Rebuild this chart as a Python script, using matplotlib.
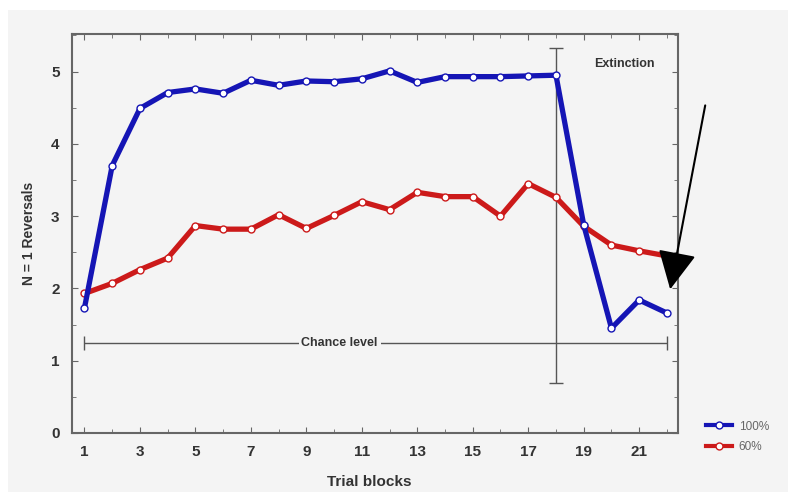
import numpy as np
import matplotlib.pyplot as plt
from matplotlib.lines import Line2D
from matplotlib.patches import Rectangle

plt.rcParams['font.family'] = ['Liberation Sans', 'DejaVu Sans']

# -----------------------------
# Дані
# -----------------------------
blocks = np.arange(1, 23)
rev_100 = [1.73, 3.70, 4.49, 4.71, 4.76, 4.70, 4.88, 4.81, 4.87, 4.86, 4.90,
           5.01, 4.85, 4.93, 4.93, 4.93, 4.94, 4.95, 2.88, 1.45, 1.84, 1.66]
rev_60 = [1.93, 2.07, 2.26, 2.42, 2.87, 2.82, 2.82, 3.02, 2.83, 3.01, 3.20,
          3.09, 3.33, 3.27, 3.27, 3.00, 3.45, 3.26, 2.86, 2.60, 2.52, 2.45]
series_names = ["100%", "60%"]

chance_level = 1.25
extinction_block = 18
ext_bar = (0.69, 5.33)

bg = '#f4f4f4'
blue = '#1515b5'
red = '#cc1a1a'

fig = plt.figure(figsize=(7.88, 4.92), dpi=100, facecolor='white')
fig.patches.append(Rectangle((8 / 788, 0), 1 - 8 / 788, 1 - 10 / 492,
                             transform=fig.transFigure, facecolor=bg,
                             edgecolor='none', zorder=-10))
ax = fig.add_axes([72 / 788, 1 - 433 / 492, 606 / 788, 399 / 492])
ax.set_facecolor(bg)

# лінії
mk = dict(marker='o', markersize=5, markerfacecolor='white', markeredgewidth=1)
ax.plot(blocks, rev_100, color=blue, lw=3.8, markeredgecolor=blue, zorder=4, **mk)
ax.plot(blocks, rev_60, color=red, lw=3.8, markeredgecolor=red, zorder=3, **mk)

# chance level
ax.errorbar([(blocks[0] + blocks[-1]) / 2], [chance_level],
            xerr=[[(blocks[-1] - blocks[0]) / 2]], color='#555555',
            lw=1, capsize=5, capthick=1, zorder=2)
ax.text(10.2, chance_level, "Chance level", ha='center', va='center',
        fontsize=9, fontweight='bold', color='#333333',
        bbox=dict(facecolor=bg, edgecolor='none', pad=2), zorder=2.5)

# extinction
ax.errorbar([extinction_block], [(ext_bar[0] + ext_bar[1]) / 2],
            yerr=[[(ext_bar[1] - ext_bar[0]) / 2]], color='#555555',
            lw=1, capsize=5, capthick=1, zorder=2)
ax.text(20.45, 5.1, "Extinction", ha='center', va='center',
        fontsize=9, fontweight='bold', color='#333333')

# стрілка
ax.annotate("", xy=(22.1, 1.95), xytext=(23.4, 4.57),
            arrowprops=dict(arrowstyle='-|>,head_length=1.2,head_width=0.6',
                            mutation_scale=20, color='black', lw=1.5),
            annotation_clip=False)

ax.set_xlim(0.55, 22.4)
ax.set_ylim(0, 5.52)
ax.set_xticks(np.arange(1, 23, 2))
ax.set_xticks(np.arange(1, 23), minor=True)
ax.set_yticks(np.arange(0, 6))
ax.set_yticks(np.arange(0, 5.6, 0.5), minor=True)
ax.tick_params(which='both', direction='in', top=True, right=True,
               color='#666666', labelsize=11, labelcolor='#333333')
ax.tick_params(which='major', length=4)
ax.tick_params(which='minor', length=3)
ax.tick_params(axis='x', pad=9)
ax.tick_params(axis='y', pad=9)
for lbl in ax.get_xticklabels() + ax.get_yticklabels():
    lbl.set_fontweight('bold')
for s in ax.spines.values():
    s.set_color('#666666')
    s.set_linewidth(1.5)

ax.set_xlabel("Trial blocks", fontsize=11, fontweight='bold', color='#333333')
ax.set_ylabel("N = 1 Reversals", fontsize=10, fontweight='bold', color='#333333')
ax.xaxis.set_label_coords(0.49, -0.105)
ax.yaxis.set_label_coords(-0.06, 0.5)

handles = [Line2D([], [], color=blue, lw=3, markeredgecolor=blue, **mk),
           Line2D([], [], color=red, lw=3, markeredgecolor=red, **mk)]
fig.legend(handles, series_names, loc='upper left',
           bbox_to_anchor=(695 / 788, 1 - 410 / 492), frameon=False,
           fontsize=8.5, handlelength=2.2, labelcolor='#666666',
           labelspacing=0.7, handletextpad=0.6)

fig.savefig("out.png", dpi=100, facecolor=fig.get_facecolor())
